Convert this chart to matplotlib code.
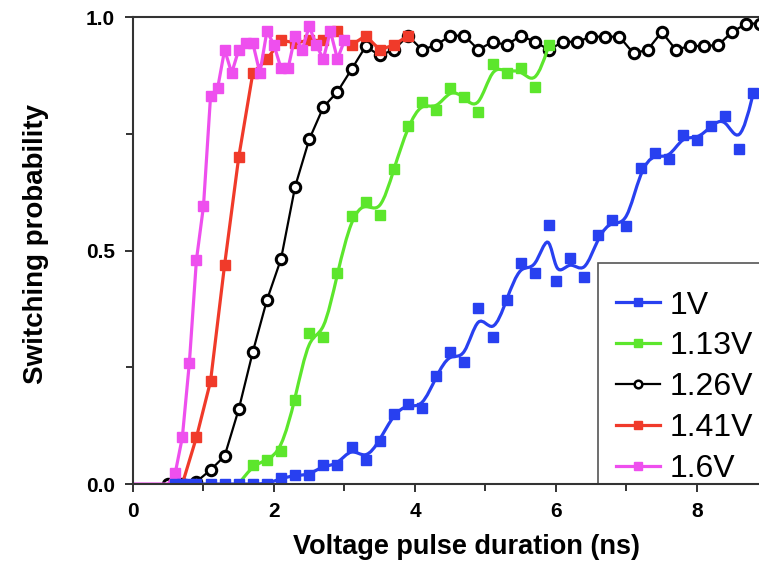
import numpy as np
import matplotlib
matplotlib.use("Agg")
import matplotlib.pyplot as plt
from matplotlib.path import Path
from matplotlib.patches import PathPatch, Rectangle
from matplotlib.lines import Line2D
from matplotlib.ticker import MultipleLocator

plt.rcParams['font.family'] = ['Liberation Sans', 'DejaVu Sans']

# ---------------- data ----------------
x_1v = [0.6, 0.7, 0.8, 0.9, 1.1, 1.3, 1.5, 1.7, 1.9, 2.1, 2.3, 2.5, 2.7, 2.9,
        3.1, 3.3, 3.5, 3.7, 3.9, 4.1, 4.3, 4.5, 4.7, 4.9, 5.1, 5.3, 5.5, 5.7,
        5.9, 6.0, 6.2, 6.4, 6.6, 6.8, 7.0, 7.2, 7.4, 7.6, 7.8, 8.0, 8.2, 8.4,
        8.6, 8.8]
y_1v = [0.0, 0.0, 0.0, 0.0, 0.0, 0.0, 0.0, 0.0, 0.0, 0.012, 0.019, 0.019, 0.04, 0.04,
        0.08, 0.051, 0.093, 0.151, 0.171, 0.162, 0.231, 0.283, 0.262, 0.376, 0.314, 0.395, 0.474, 0.452,
        0.555, 0.435, 0.483, 0.444, 0.533, 0.565, 0.552, 0.676, 0.708, 0.695, 0.747, 0.737, 0.767, 0.788,
        0.717, 0.838]

x_113v = [1.5, 1.7, 1.9, 2.1, 2.3, 2.5, 2.7, 2.9, 3.1, 3.3, 3.5, 3.7, 3.9, 4.1,
          4.3, 4.5, 4.7, 4.9, 5.1, 5.3, 5.5, 5.7, 5.9]
y_113v = [0.0, 0.04, 0.051, 0.071, 0.18, 0.324, 0.314, 0.452, 0.573, 0.604, 0.576, 0.674, 0.767, 0.819,
          0.80, 0.847, 0.828, 0.797, 0.90, 0.88, 0.89, 0.85, 0.94]

x_126v = [0.5, 0.7, 0.9, 1.1, 1.3, 1.5, 1.7, 1.9, 2.1, 2.3, 2.5, 2.7, 2.9, 3.1,
          3.3, 3.5, 3.7, 3.9, 4.1, 4.3, 4.5, 4.7, 4.9, 5.1, 5.3, 5.5, 5.7, 5.9,
          6.1, 6.3, 6.5, 6.7, 6.9, 7.1, 7.3, 7.5, 7.7, 7.9, 8.1, 8.3, 8.5, 8.7, 8.9]
y_126v = [0.0, 0.0, 0.005, 0.03, 0.06, 0.16, 0.283, 0.394, 0.482, 0.637, 0.738, 0.807, 0.84, 0.888,
          0.937, 0.918, 0.93, 0.96, 0.93, 0.94, 0.96, 0.96, 0.93, 0.947, 0.94, 0.96, 0.947, 0.93,
          0.947, 0.947, 0.958, 0.958, 0.958, 0.922, 0.93, 0.968, 0.93, 0.938, 0.938, 0.94, 0.968, 0.986, 0.986]

x_141v = [0.7, 0.9, 1.1, 1.3, 1.5, 1.7, 1.9, 2.1, 2.3, 2.5, 2.7, 2.9, 3.1, 3.3, 3.5, 3.7, 3.9]
y_141v = [0.0, 0.10, 0.22, 0.47, 0.70, 0.88, 0.91, 0.95, 0.945, 0.95, 0.95, 0.97, 0.94, 0.96, 0.93, 0.94, 0.96]

x_16v = [0.0, 0.5, 0.6, 0.7, 0.8, 0.9, 1.0, 1.1, 1.2, 1.3, 1.4, 1.5, 1.6, 1.7, 1.8, 1.9,
         2.0, 2.1, 2.2, 2.3, 2.4, 2.5, 2.6, 2.7, 2.8, 2.9, 3.0]
y_16v = [0.0, 0.0, 0.024, 0.10, 0.26, 0.48, 0.595, 0.83, 0.847, 0.93, 0.88, 0.93, 0.944, 0.944, 0.88, 0.97,
         0.94, 0.89, 0.89, 0.96, 0.93, 0.98, 0.94, 0.91, 0.97, 0.91, 0.95]

labels = ['1V', '1.13V', '1.26V', '1.41V', '1.6V']
colors = ['#2840f0', '#5ce62c', '#000000', '#f03a2a', '#ee4fee']

x_ticks = [0, 2, 4, 6, 8]
y_ticks = [0.0, 0.5, 1.0]
y_ticklabels = ['0.0', '0.5', '1.0']


def bspline_path(xs, ys):
    """Uniform cubic B-spline (control points = data), as Bezier path."""
    P = np.column_stack([xs, ys]).astype(float)
    P = np.vstack([P[0], P[0], P, P[-1], P[-1]])
    verts = []
    codes = []
    for i in range(1, len(P) - 2):
        A, B, C, D = P[i - 1], P[i], P[i + 1], P[i + 2]
        b0 = (A + 4 * B + C) / 6
        b1 = (2 * B + C) / 3
        b2 = (B + 2 * C) / 3
        b3 = (B + 4 * C + D) / 6
        if not verts:
            verts.append(b0)
            codes.append(Path.MOVETO)
        verts += [b1, b2, b3]
        codes += [Path.CURVE4] * 3
    return Path(verts, codes)


fig = plt.figure(figsize=(7.59, 5.64), dpi=100)
ax = fig.add_axes([0.1752, 0.1418, 0.836, 0.828])

lw = 2.3
ms = 6.5

# black 1.26V
ax.plot(x_126v, y_126v, '-', color=colors[2], lw=1.6, marker='o', ms=7.5,
        mfc='white', mec='black', mew=2.2, zorder=2)
# red 1.41V
ax.plot(x_141v, y_141v, '-', color=colors[3], lw=lw, marker='s', ms=ms,
        mec=colors[3], markevery=list(range(1, len(x_141v))), zorder=3)
# magenta 1.6V
ax.plot(x_16v, y_16v, '-', color=colors[4], lw=lw, marker='s', ms=ms + 1,
        mec=colors[4], markevery=list(range(2, len(x_16v))), zorder=4)
# green 1.13V (B-spline line)
ax.add_patch(PathPatch(bspline_path(x_113v, y_113v), fill=False,
                       edgecolor=colors[1], lw=lw, zorder=5))
ax.plot(x_113v, y_113v, 's', color=colors[1], ms=ms, zorder=5,
        markevery=list(range(1, len(x_113v))))
# blue 1V (B-spline line)
ax.add_patch(PathPatch(bspline_path(x_1v, y_1v), fill=False,
                       edgecolor=colors[0], lw=lw, zorder=6))
ax.plot(x_1v, y_1v, 's', color=colors[0], ms=ms, zorder=6)

ax.set_xlim(0, 9)
ax.set_ylim(0, 1.0)
ax.set_xticks(x_ticks)
ax.set_yticks(y_ticks)
ax.set_yticklabels(y_ticklabels)
ax.xaxis.set_minor_locator(MultipleLocator(1))
ax.yaxis.set_minor_locator(MultipleLocator(0.25))
ax.tick_params(which='both', direction='out', width=1.4, color='#333333')
ax.tick_params(which='major', length=6, labelsize=15, pad=7)
ax.tick_params(which='minor', length=5)
for lab in ax.get_xticklabels() + ax.get_yticklabels():
    lab.set_fontweight('bold')

for s in ['left', 'bottom', 'top']:
    ax.spines[s].set_linewidth(1.5)
    ax.spines[s].set_color('#333333')
    ax.spines[s].set_zorder(12)
ax.spines['right'].set_visible(False)

ax.set_xlabel('Voltage pulse duration (ns)', fontsize=19.5, fontweight='bold')
ax.xaxis.set_label_coords(0.525, -0.108)
ax.set_ylabel('Switching probability', fontsize=20, fontweight='bold')
ax.yaxis.set_label_coords(-0.132, 0.515)

# legend box (frame drawn separately so it can sit on the axis line)
box = Rectangle((0.733, -0.01), 0.4, 0.483, transform=ax.transAxes,
                facecolor='white', edgecolor='#555555', lw=1.2, zorder=9,
                clip_on=True)
ax.add_patch(box)

handles = [
    Line2D([], [], color=colors[0], lw=lw, marker='s', ms=5.5),
    Line2D([], [], color=colors[1], lw=lw, marker='s', ms=5.5),
    Line2D([], [], color=colors[2], lw=1.6, marker='o', ms=5.5, mfc='white', mew=1.8),
    Line2D([], [], color=colors[3], lw=lw, marker='s', ms=5.5),
    Line2D([], [], color=colors[4], lw=lw, marker='s', ms=5.5),
]
leg = ax.legend(handles, labels, loc='upper left', bbox_to_anchor=(0.733, 0.452),
                borderaxespad=0, fontsize=23, frameon=False,
                handlelength=1.4, handletextpad=0.3, labelspacing=0.34,
                borderpad=0.55)
leg.set_zorder(10)

fig.savefig('out.png', dpi=100)
